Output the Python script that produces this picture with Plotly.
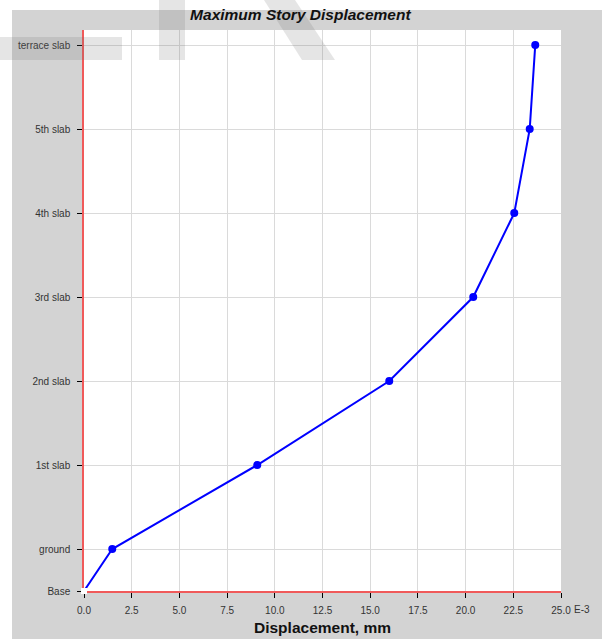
import plotly.graph_objects as go

# Story levels, elevations (m) and maximum displacement (mm x 1E-3)
stories = ["Base", "ground", "1st slab", "2nd slab", "3rd slab", "4th slab", "5th slab", "terrace slab"]
elevation = [0.0, 1.5, 4.5, 7.5, 10.5, 13.5, 16.5, 19.5]
displacement = [0.0, 1.48, 9.08, 16.0, 20.4, 22.55, 23.36, 23.65]

x_ticks = [0.0, 2.5, 5.0, 7.5, 10.0, 12.5, 15.0, 17.5, 20.0, 22.5, 25.0]
x_ticktext = [f"{v:.1f}" for v in x_ticks]

W, H = 602, 639
L, R, T, B = 84, 41, 30, 48
PW, PH = W - L - R, H - T - B


def px(x):
    return (x - L) / PW


def py(y):
    return (H - B - y) / PH


fig = go.Figure()

n = len(displacement)
fig.add_trace(go.Scatter(
    x=displacement, y=elevation,
    mode="lines+markers",
    line=dict(color="#0000ff", width=2),
    marker=dict(
        size=[6] + [8] * (n - 1),
        symbol=["square"] + ["circle"] * (n - 1),
        color=["#ffffff"] + ["#0000ff"] * (n - 1),
        opacity=1,
        line=dict(width=0),
    ),
    cliponaxis=False,
    hoverinfo="x+y",
    showlegend=False,
))

mark = "rgba(110,110,110,0.18)"
shapes = [
    # white border strips around the grey panel
    dict(type="rect", xref="paper", yref="paper", x0=px(0), x1=px(W), y0=py(10), y1=py(0),
         fillcolor="#ffffff", line_width=0, layer="below"),
    dict(type="rect", xref="paper", yref="paper", x0=px(0), x1=px(12), y0=py(H), y1=py(0),
         fillcolor="#ffffff", line_width=0, layer="below"),
    # translucent logo mark
    dict(type="rect", xref="paper", yref="paper", x0=px(0), x1=px(122), y0=py(60), y1=py(37),
         fillcolor=mark, line_width=0, layer="above"),
    dict(type="rect", xref="paper", yref="paper", x0=px(159), x1=px(185), y0=py(60), y1=py(0),
         fillcolor=mark, line_width=0, layer="above"),
    dict(type="path", xref="paper", yref="paper",
         path=f"M {px(264)},{py(0)} L {px(295)},{py(0)} L {px(335)},{py(60)} L {px(302)},{py(60)} Z",
         fillcolor=mark, line_width=0, layer="above"),
]

fig.update_layout(
    width=W, height=H,
    margin=dict(l=L, r=R, t=T, b=B, pad=0),
    paper_bgcolor="#d3d3d3",
    plot_bgcolor="#ffffff",
    font=dict(family="Liberation Sans, Arial, sans-serif", color="#333333", size=10),
    title=dict(
        text="<b><i>Maximum Story Displacement</i></b>",
        x=px(322), xanchor="center", y=1 - 15 / H, yanchor="middle",
        font=dict(size=15.5, color="#111111"),
    ),
    shapes=shapes,
    annotations=[
        dict(text="E-3", xref="paper", yref="paper", x=1, y=py(609.5), xanchor="left", yanchor="middle",
             xshift=11, showarrow=False, font=dict(size=10, color="#333333")),
        dict(text="<b>Displacement, mm</b>", xref="paper", yref="paper", x=px(322), y=py(627),
             xanchor="center", yanchor="middle", showarrow=False, font=dict(size=15.5, color="#111111")),
    ],
)

fig.update_xaxes(
    range=[0, 25], tickvals=x_ticks, ticktext=x_ticktext,
    showgrid=True, gridcolor="#dadada", gridwidth=1,
    showline=True, linecolor="#f05a5a", linewidth=1.5,
    ticks="outside", ticklen=5, tickcolor="#000000", tickwidth=1,
    zeroline=False, ticklabelstandoff=4, layer="below traces",
)
fig.update_yaxes(
    range=[0, 20.04], tickvals=elevation, ticktext=stories,
    showgrid=True, gridcolor="#dadada", gridwidth=1,
    showline=True, linecolor="#f05a5a", linewidth=1.5,
    ticks="outside", ticklen=5, tickcolor="#000000", tickwidth=1,
    zeroline=False, ticklabelstandoff=5, layer="below traces",
)

fig.write_html("out.html")
